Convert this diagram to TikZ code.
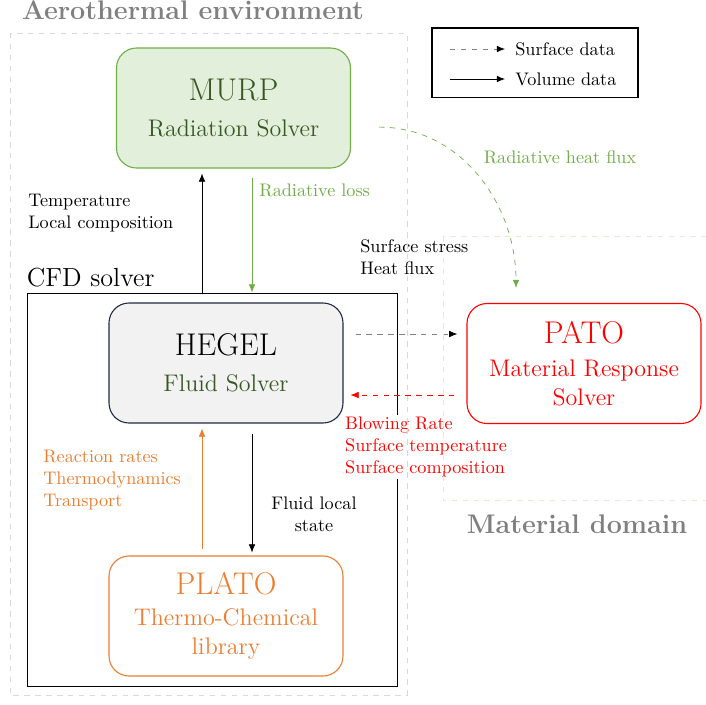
\documentclass[tikz,border=0pt]{standalone}
\usepackage{amsmath}
\usepackage{tikz}
\usetikzlibrary{positioning,arrows.meta}
\definecolor{murpgreen}{RGB}{112,173,71}
\definecolor{murpfill}{RGB}{226,239,218}
\definecolor{solvgreen}{RGB}{56,87,35}
\definecolor{hegelline}{RGB}{31,43,68}
\definecolor{hegelfill}{RGB}{242,242,242}
\definecolor{platoorange}{RGB}{237,125,49}
\definecolor{matpeach}{RGB}{251,226,208}

\begin{document}
\begin{tikzpicture}[x=0.55pt,y=-0.55pt,
  solver/.style={rounded corners=11pt,minimum width=128.7pt,minimum height=66pt,align=center,semithick,font=\fontsize{13.2}{16}\selectfont},
  vol/.style={-{Latex[length=4.5pt,width=3.6pt]}},
  surf/.style={dashed,gray,-{Latex[black,length=4.5pt,width=3.6pt]}},
  lbl/.style={align=left,anchor=west,inner sep=0pt},
  title/.style={font=\fontsize{14.8}{18}\selectfont\bfseries,text=gray}]
\useasboundingbox (0,0) rectangle (706,704);
\node [draw,line width=0.5pt,minimum width=203.5pt,minimum height=216.2pt] (cfd) at (212,489.5) {};
\node [font=\Large,inner sep=0pt,above right=3pt and 0pt of cfd.north west] (cfdt) {CFD solver};
\node [lbl,text=red,fill=white,inner sep=1pt] (brs) at (343,447) {Blowing Rate\\Surface temperature\\Surface composition};
\node [solver,draw=murpgreen,fill=murpfill,text=solvgreen] (murp) at (233.5,108) {{\LARGE MURP}\\[4pt]Radiation Solver};
\node [solver,draw=hegelline,fill=hegelfill] (hegel) at (226,363) {{\LARGE HEGEL}\\[4pt]\textcolor{solvgreen}{Fluid Solver}};
\node [solver,draw=red,text=red,fill=white] (pato) at (584,363.5) {{\LARGE PATO}\\[2pt]Material Response\\Solver};
\node [solver,draw=platoorange,text=platoorange] (plato) at (226,616) {{\LARGE PLATO}\\[1pt]Thermo-Chemical\\library};
\node [draw,semithick,minimum width=113.3pt,minimum height=38pt] (leg) at (535,62.5) {};
\coordinate (l1) at (450,49);
\coordinate (l2) at (450,79);
\node [inner sep=0pt,right=35.75pt of l1] (sd) {Surface data};
\node [inner sep=0pt,right=35.75pt of l2] (vd) {Volume data};
\draw [surf,shorten >=5.5pt] (l1) -- (sd.west);
\draw [vol,shorten >=5.5pt] (l2) -- (vd.west);
\coordinate (upx) at (202,0);
\coordinate (dnx) at (252,0);
\coordinate (sy) at (0,334);
\coordinate (by) at (0,395);
\draw [vol,shorten >=2.7pt] (cfd.north -| upx) -- (murp.south -| upx);
\draw [vol,murpgreen,shorten <=5pt] (murp.south -| dnx) -- (cfd.north -| dnx);
\draw [vol,shorten <=5.5pt,shorten >=1.6pt] (hegel.south -| dnx) -- (plato.north -| dnx);
\draw [vol,platoorange,shorten <=3.8pt,shorten >=2.7pt] (plato.north -| upx) -- (hegel.south -| upx);
\draw [surf,shorten <=6.6pt,shorten >=5pt] (hegel.east |- sy) -- (pato.west |- sy);
\draw [vol,red,dashed,shorten <=6.6pt,shorten >=3.8pt] (pato.west |- by) -- (hegel.east |- by);
\coordinate (cs) at ([xshift=15.4pt,yshift=-10.5pt]murp.east);
\coordinate (ce) at ([xshift=-37.4pt,yshift=8.25pt]pato.north);
\draw [vol,dashed,murpgreen] (cs) to[out=0,in=90] (ce);
\node [lbl] (tlc) at (28,213) {Temperature\\Local composition};
\node [lbl,text=murpgreen] (rl) at (259,190) {Radiative loss};
\node [lbl] (shf) at (360,257) {Surface stress\\Heat flux};
\node [align=center] (fls) at (314,514) {Fluid local\\state};
\node [lbl,text=platoorange] (rtt) at (43,480) {Reaction rates\\Thermodynamics\\Transport};
\node [text=murpgreen] (rhf) at (560,157) {Radiative heat flux};
\draw [dashed,gray!30] (10,33) rectangle (407,695);
\draw [dashed,matpeach] (443,236) rectangle (720,500);
\node [title] (aet) at (193,10) {Aerothermal environment};
\node [title] (mdt) at (577,524) {Material domain};
\end{tikzpicture}
\end{document}
